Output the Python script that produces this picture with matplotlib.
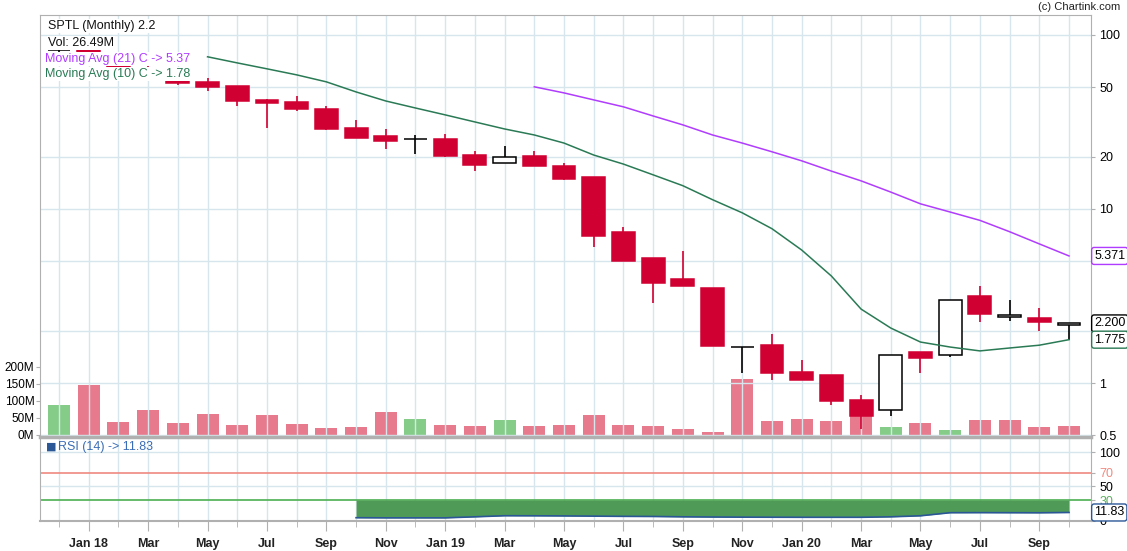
import matplotlib
matplotlib.use("Agg")
import matplotlib.pyplot as plt
import numpy as np
import pandas as pd
from matplotlib.ticker import FixedLocator, FuncFormatter, NullFormatter

plt.rcParams["font.family"] = ["Liberation Sans", "DejaVu Sans"]

# monthly bars, Dec 2017 .. Oct 2020
months = pd.date_range("2017-12-01", periods=35, freq="MS")
opens = [81.5, 82.0, 73.8, 63.0, 58.1, 53.7, 50.9, 42.3, 41.2, 37.6, 29.2, 26.3,
         25.2, 25.3, 20.4, 18.4, 20.2, 17.7, 15.3, 7.4, 5.23, 3.96, 3.52, 1.61,
         1.65, 1.157, 1.11, 0.80, 0.70, 1.51, 1.45, 3.16, 2.39, 2.36, 2.15]
highs = [84.0, 84.0, 75.0, 66.0, 60.0, 56.6, 50.9, 42.9, 44.6, 39.1, 32.5, 28.8,
         26.6, 27.0, 21.5, 23.0, 21.5, 18.4, 15.3, 7.9, 5.23, 5.74, 3.52, 1.61,
         1.91, 1.36, 1.11, 0.853, 1.45, 1.51, 3.0, 3.61, 3.0, 2.70, 2.2]
lows = [69.0, 73.0, 63.0, 58.0, 51.6, 47.7, 39.1, 29.2, 36.6, 28.4, 25.6, 22.1,
        20.7, 19.9, 16.5, 18.4, 17.7, 14.7, 6.05, 5.03, 2.88, 3.61, 1.63, 1.14,
        1.04, 1.04, 0.748, 0.544, 0.646, 1.14, 1.41, 2.24, 2.27, 1.99, 1.77]
closes = [82.0, 74.8, 64.6, 58.9, 53.0, 50.3, 41.7, 40.7, 37.6, 28.8, 25.6, 24.6,
          25.3, 20.2, 17.9, 19.9, 17.7, 14.9, 7.0, 5.03, 3.76, 3.61, 1.63, 1.61,
          1.14, 1.04, 0.79, 0.646, 1.45, 1.39, 3.0, 2.49, 2.46, 2.24, 2.2]
volume_m = [88, 147, 38, 74, 35, 62, 29, 59, 32, 21, 24, 68, 47, 29, 26, 44, 26, 29,
            59, 29, 26, 18, 9, 165, 41, 47, 41, 56, 24, 35, 15, 44, 44, 24, 26]

# moving averages (start May 2018 / Apr 2019) and RSI (start Oct 2018)
ma10 = [74.8, 69.0, 63.8, 58.9, 53.7, 47.0, 41.7, 38.0, 34.7, 31.6, 28.8, 26.6,
        23.9, 20.4, 18.1, 15.7, 13.6, 11.3, 9.5, 7.7, 5.81, 4.12, 2.66, 2.07,
        1.72, 1.61, 1.53, 1.59, 1.65, 1.775]
ma21 = [50.3, 46.4, 42.3, 38.6, 34.2, 30.4, 26.6, 23.9, 21.3, 18.9, 16.5, 14.5,
        12.5, 10.7, 9.6, 8.6, 7.4, 6.3, 5.371]
rsi = [4.2, 4.0, 4.0, 4.0, 5.5, 7.1, 7.0, 6.8, 6.5, 6.2, 6.0, 5.5, 5.2, 5.0, 4.9,
       4.8, 4.8, 4.8, 5.5, 7.0, 11.5, 11.6, 11.5, 11.4, 11.83]
MA10_START, MA21_START, RSI_START = 5, 16, 10

RED = "#d10032"
VOL_RED = "#e87a8d"
VOL_GREEN = "#84cc88"
GRID = "#d6e6ec"
SPINE = "#b0b0b0"
PURPLE = "#b03cff"
MAGREEN = "#2a7a55"
BLUE = "#2b5797"


def main():
    W, H = 1127, 551
    fig = plt.figure(figsize=(W / 100, H / 100), dpi=100)
    ax = fig.add_axes([40 / W, 1 - 437 / H, 1051 / W, 422 / H])
    rax = fig.add_axes([40 / W, 1 - 521 / H, 1051 / W, 84 / H], sharex=ax)
    vax = ax.twinx()
    vax.set_zorder(1)
    ax.set_zorder(2)
    ax.patch.set_visible(False)

    x = np.arange(len(months))
    o, h, l, c = map(np.array, (opens, highs, lows, closes))
    up = c >= o

    # volume, coloured by close vs previous close
    vol_up = np.r_[True, c[1:] >= c[:-1]]
    vax.bar(x, volume_m, width=0.74,
            color=np.where(vol_up, VOL_GREEN, VOL_RED), zorder=2)
    vax.set_ylim(-6, 1235)
    vax.yaxis.tick_left()
    vax.set_yticks([0, 50, 100, 150, 200])
    vax.yaxis.set_major_formatter(FuncFormatter(lambda v, _: f"{v:.0f}M"))
    vax.tick_params(axis="y", labelsize=8.5, length=3, color=SPINE, pad=1)
    for s in vax.spines.values():
        s.set_visible(False)

    # candles
    ax.set_yscale("log")
    wick_col = np.where(up, "black", RED)
    ax.vlines(x, l, h, colors=wick_col, lw=1.2, zorder=3)
    ax.bar(x, np.abs(c - o), bottom=np.minimum(o, c), width=0.77,
           color=np.where(up, "white", RED), edgecolor=np.where(up, "black", RED),
           lw=1.1, zorder=4)

    ax.plot(x[MA10_START:], ma10, color=MAGREEN, lw=1.1, zorder=5)
    ax.plot(x[MA21_START:], ma21, color=PURPLE, lw=1.1, zorder=5)

    ax.set_xlim(-0.64, 34.74)
    ax.set_ylim(0.49, 130)
    ax.yaxis.tick_right()
    ax.yaxis.set_major_locator(FixedLocator([0.5, 1, 2, 5, 10, 20, 50, 100]))
    ax.yaxis.set_major_formatter(FuncFormatter(
        lambda v, _: "" if v in (2, 5) else f"{v:g}"))
    ax.yaxis.set_minor_locator(FixedLocator([]))
    ax.tick_params(axis="y", labelsize=9, length=3, color=SPINE, pad=3)
    ax.grid(True, axis="y", color=GRID, lw=1, zorder=0)
    for xi in x:
        ax.axvline(xi, color=GRID, lw=1, zorder=0)
        rax.axvline(xi, color=GRID, lw=1, zorder=0)
    for side in ("left", "top", "right"):
        ax.spines[side].set_color(SPINE)
    ax.spines["bottom"].set_color(SPINE)
    ax.spines["bottom"].set_linewidth(2.5)
    ax.tick_params(axis="x", which="both", bottom=False, labelbottom=False)

    # value boxes on the right
    ty = ax.get_yaxis_transform()
    for val, txt, col in ((5.371, "5.371", PURPLE), (2.2, "2.200", "black"),
                          (1.775, "1.775", MAGREEN)):
        ax.text(1.003, val, txt, transform=ty, ha="left", va="center", fontsize=9,
                color="black", zorder=10, clip_on=False,
                bbox=dict(boxstyle="round,pad=0.2", fc="white", ec=col, lw=1))

    # legend texts
    ta = ax.transAxes
    def legend(xp, yp, s, col):
        ax.text((xp - 40) / 1051, (437 - yp) / 422, s, transform=ta, fontsize=9,
                color=col, va="center", ha="left", zorder=9,
                bbox=dict(boxstyle="square,pad=0.1", fc="white", ec="none"))
    legend(48, 26, "SPTL (Monthly) 2.2", "#111111")
    legend(48, 43, "Vol: 26.49M", "#111111")
    legend(45, 59, "Moving Avg (21) C -> 5.37", PURPLE)
    legend(45, 74, "Moving Avg (10) C -> 1.78", MAGREEN)
    fig.text(1120 / W, 1 - 7 / H, "(c) Chartink.com", ha="right", va="center",
             fontsize=8, color="#222222")

    # RSI panel
    xr = x[RSI_START:]
    r = np.array(rsi)
    rax.fill_between(xr, r, 30, where=r < 30, color="#4f9a57", lw=0, zorder=2)
    rax.plot(xr, r, color=BLUE, lw=1.2, zorder=3)
    rax.axhline(70, color="#ef8a80", lw=1.2, zorder=1)
    rax.axhline(30, color="#4caf50", lw=1.2, zorder=1)
    for lv in (100, 50):
        rax.axhline(lv, color=GRID, lw=1, zorder=0)
    rax.set_ylim(-0.6, 122)
    rax.yaxis.tick_right()
    rax.set_yticks([0, 30, 50, 70, 100])
    rax.tick_params(axis="y", labelsize=9, length=3, color=SPINE, pad=3)
    labs = rax.get_yticklabels()
    labs[1].set_color("#5cae5f")
    labs[3].set_color("#ef8a80")
    rax.text(1.003, 11.83, "11.83", transform=rax.get_yaxis_transform(),
             ha="left", va="center", fontsize=9, zorder=10, clip_on=False,
             bbox=dict(boxstyle="round,pad=0.2", fc="white", ec=BLUE, lw=1))
    rax.text(6 / 1051, 0.88, "\u25a0", transform=rax.transAxes, color=BLUE,
             fontsize=8, va="center", ha="left", family="DejaVu Sans")
    rax.text(18 / 1051, 0.88, "RSI (14) -> 11.83", transform=rax.transAxes,
             color="#3a6db5", fontsize=9, va="center", ha="left")
    for side in ("left", "bottom", "right"):
        rax.spines[side].set_color(SPINE)
    rax.spines["top"].set_visible(False)
    rax.spines["bottom"].set_linewidth(1.5)

    major = x[1::2]
    rax.xaxis.set_major_locator(FixedLocator(major))
    rax.xaxis.set_minor_locator(FixedLocator(x))
    rax.xaxis.set_minor_formatter(NullFormatter())
    rax.set_xticklabels([d.strftime("%b %y") if d.month == 1 else d.strftime("%b")
                         for d in months[1::2]])
    rax.tick_params(axis="x", which="major", length=7, color=SPINE, labelsize=9,
                    pad=5)
    rax.tick_params(axis="x", which="minor", length=4, color=SPINE)
    for t in rax.get_xticklabels():
        t.set_fontweight("bold")
        t.set_color("#222222")

    fig.savefig("out.png", dpi=100)


if __name__ == "__main__":
    main()
